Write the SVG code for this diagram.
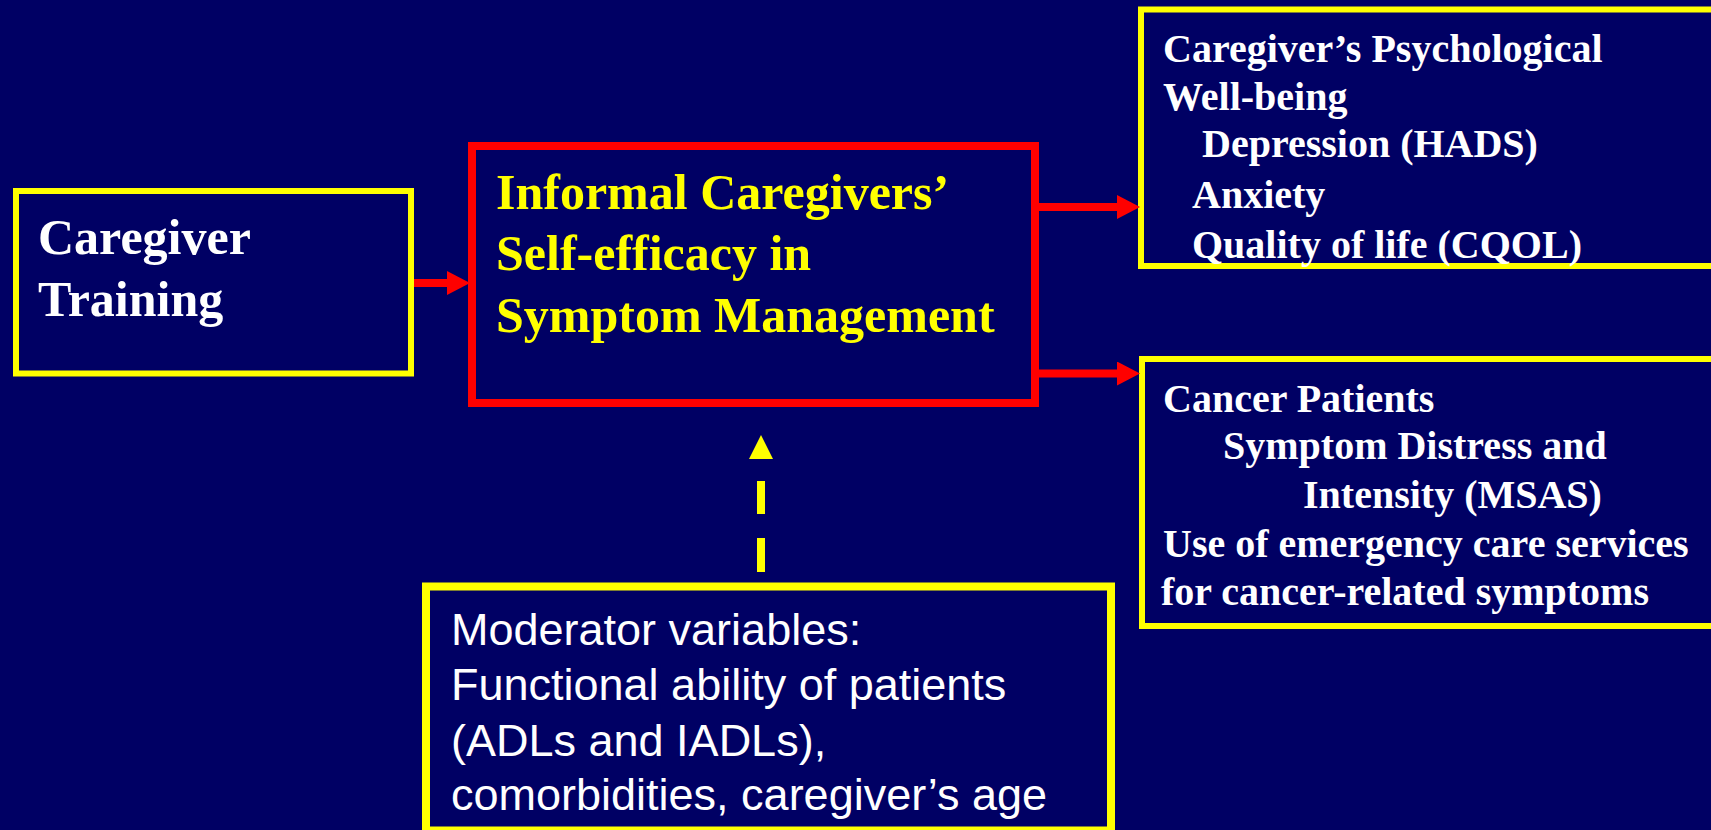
<svg xmlns="http://www.w3.org/2000/svg" width="1711" height="830" viewBox="0 0 1711 830">
<defs>
<style>
.box{fill:none;}
.yb{stroke:#FFFF00;stroke-width:6;}
.serif{font-family:"Liberation Serif","Times New Roman",serif;font-weight:bold;}
.sans{font-family:"Liberation Sans",Arial,sans-serif;}
.w{fill:#FFFFFF;}
.y{fill:#FFFF00;}
.red{stroke:#FF0000;stroke-width:8;fill:none;}
.dash{stroke:#FFFF00;stroke-width:8;fill:none;stroke-dasharray:34 24 33 100;}
</style>
<marker id="redHead" viewBox="0 0 23 24" refX="0" refY="12" markerWidth="23" markerHeight="24" markerUnits="userSpaceOnUse" orient="auto">
<path d="M0,0 L23,12 L0,24 Z" fill="#FF0000"/>
</marker>
<marker id="yelHead" viewBox="0 0 24 24" refX="0" refY="12" markerWidth="24" markerHeight="24" markerUnits="userSpaceOnUse" orient="auto">
<path d="M0,0 L24,12 L0,24 Z" fill="#FFFF00"/>
</marker>
</defs>
<rect x="0" y="0" width="1711" height="830" fill="#000064"/>

<g id="caregiver-training">
<rect class="box yb" x="16" y="191" width="395" height="182.5"/>
<text class="serif w" font-size="50"><tspan x="38" y="254">Caregiver</tspan><tspan x="38" y="316">Training</tspan></text>
</g>

<g id="self-efficacy">
<rect class="box" x="472" y="146" width="563" height="257" stroke="#FF0000" stroke-width="8"/>
<text class="serif y" font-size="50"><tspan x="496" y="209">Informal Caregivers’</tspan><tspan x="496" y="270">Self-efficacy in</tspan><tspan x="496" y="332">Symptom Management</tspan></text>
</g>

<g id="psychological-wellbeing">
<rect class="box yb" x="1141" y="9.5" width="620" height="256.5"/>
<text class="serif w" font-size="40"><tspan x="1163" y="62">Caregiver’s Psychological</tspan><tspan x="1163" y="110">Well-being</tspan><tspan x="1202" y="157">Depression (HADS)</tspan><tspan x="1192" y="208">Anxiety</tspan><tspan x="1192" y="258">Quality of life (CQOL)</tspan></text>
</g>

<g id="cancer-patients">
<rect class="box yb" x="1142" y="359" width="620" height="267"/>
<text class="serif w" font-size="40"><tspan x="1163" y="412">Cancer Patients</tspan><tspan x="1223" y="459">Symptom Distress and</tspan><tspan x="1303" y="508">Intensity (MSAS)</tspan><tspan x="1163" y="557">Use of emergency care services</tspan><tspan x="1161" y="605">for cancer-related symptoms</tspan></text>
</g>

<g id="moderators">
<rect class="box" x="426" y="586.5" width="685" height="244" stroke="#FFFF00" stroke-width="8"/>
<text class="sans w" font-size="45"><tspan x="451" y="645">Moderator variables:</tspan><tspan x="451" y="700">Functional ability of patients</tspan><tspan x="451" y="756">(ADLs and IADLs),</tspan><tspan x="451" y="810">comorbidities, caregiver’s age</tspan></text>
</g>

<g id="connectors">
<path class="red" d="M414,283 H447" marker-end="url(#redHead)"/>
<path class="red" d="M1039,207 H1117" marker-end="url(#redHead)"/>
<path class="red" d="M1039,373.5 H1117" marker-end="url(#redHead)"/>
<path class="dash" d="M761,572 V459" marker-end="url(#yelHead)"/>
</g>
</svg>
